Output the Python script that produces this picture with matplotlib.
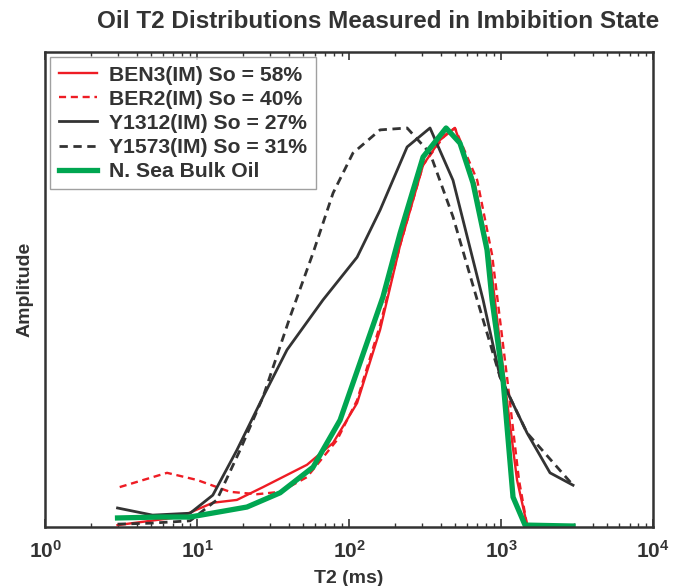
import numpy as np
import matplotlib
matplotlib.use('Agg')
import matplotlib.pyplot as plt
from matplotlib.ticker import LogLocator, NullFormatter

plt.rcParams['font.family'] = ['Liberation Sans', 'DejaVu Sans']

# T2 (ms) and amplitude (arbitrary units, axis runs 0..100)
ben3_t2 = [3, 7.7, 12.7, 18.3, 27.2, 52.9, 78.5, 113, 160, 217, 307, 398, 497, 675, 847, 1062, 1274, 1483, 2976]
ben3_amp = [0.4, 2.1, 5.1, 5.7, 8.4, 13.1, 17.7, 26.1, 41.5, 59.4, 76.2, 81.5, 84, 72, 56.2, 29.9, 9.9, 0.4, 0.2]

ber2_t2 = [3.1, 6.35, 10, 16.5, 24.8, 35.2, 52.9, 83.4, 113, 160, 217, 307, 427, 497, 697, 873, 1100, 1312, 1483, 2976]
ber2_amp = [8.4, 11.4, 9.9, 7.4, 6.9, 7.4, 10.5, 18.3, 26.7, 42.5, 59.4, 76.2, 82.5, 84, 73, 57.3, 31, 9.9, 0.4, 0.2]

y1312_t2 = [3, 5.1, 9.0, 12.7, 18.3, 27.2, 39.1, 67.4, 113, 160, 241, 341, 483, 762, 985, 1483, 2100, 2976]
y1312_amp = [4.0, 2.5, 2.9, 6.7, 16.2, 27.4, 37.3, 47.8, 56.8, 66.7, 80, 84, 73, 47.8, 31.6, 19.8, 11.4, 8.8]

y1573_t2 = [3, 4.9, 9.0, 13.5, 19.2, 27.2, 40.9, 58, 78.5, 106, 160, 241, 341, 483, 697, 985, 1483, 2976]
y1573_amp = [0.6, 0.8, 1.3, 5.7, 16.2, 27.4, 44.2, 57.7, 70.3, 78.7, 83.6, 84, 78.7, 65.3, 47.8, 31.6, 19.8, 8.8]

bulk_t2 = [3, 5.7, 9.0, 21.3, 35.2, 58, 87.3, 167, 217, 307, 435, 537, 654, 809, 873, 1031, 1199, 1438, 2976]
bulk_amp = [1.9, 2.1, 2.1, 4.2, 7.2, 12.6, 22.5, 48.4, 61.9, 77.9, 84, 80.8, 72.4, 58.3, 47.8, 30.9, 6.3, 0.4, 0.2]

red = '#ee1c24'
dark = '#333333'
green = '#00a651'

fig = plt.figure(figsize=(6.78, 5.86), dpi=100)
ax = fig.add_axes([0.0664, 0.1007, 0.8968, 0.8106])

ax.plot(ben3_t2, ben3_amp, color=red, lw=1.7, label='BEN3(IM) So = 58%')
ax.plot(ber2_t2, ber2_amp, color=red, lw=1.7, ls=(0, (3, 2)), label='BER2(IM) So = 40%')
ax.plot(y1312_t2, y1312_amp, color=dark, lw=2.0, label='Y1312(IM) So = 27%')
ax.plot(y1573_t2, y1573_amp, color=dark, lw=2.0, ls=(0, (3, 2)), label='Y1573(IM) So = 31%')
ax.plot(bulk_t2, bulk_amp, color=green, lw=3.8, label='N. Sea Bulk Oil')

ax.set_xscale('log')
ax.set_xlim(1, 1e4)
ax.set_ylim(0, 100)
ax.set_yticks([])

ax.xaxis.set_major_locator(LogLocator(base=10, numticks=10))
ax.xaxis.set_minor_locator(LogLocator(base=10, subs=np.arange(2, 10), numticks=10))
ax.xaxis.set_minor_formatter(NullFormatter())
ax.tick_params(axis='x', which='major', direction='in', top=True, length=6, width=1.2,
               color=dark, labelsize=15, labelcolor=dark, pad=9)
ax.tick_params(axis='x', which='minor', direction='in', top=True, length=3, width=1.0, color=dark)
for lab in ax.get_xticklabels():
    lab.set_fontweight('bold')

for s in ax.spines.values():
    s.set_color(dark)
    s.set_linewidth(1.8)

ax.set_xlabel('T2 (ms)', fontsize=14, fontweight='bold', color=dark, labelpad=6)
ax.set_ylabel('Amplitude', fontsize=14, fontweight='bold', color=dark, labelpad=8)
fig.text(0.557, 0.963, 'Oil T2 Distributions Measured in Imbibition State',
         fontsize=17.5, fontweight='bold', color=dark, ha='center', va='center')

leg = ax.legend(loc='upper left', frameon=True, fancybox=False,
                edgecolor='#888888', handlelength=1.8, handletextpad=0.6,
                borderpad=0.4, labelspacing=0.24, borderaxespad=0.25,
                prop={'weight': 'bold', 'size': 15.2})
leg.get_frame().set_linewidth(1.0)
for t in leg.get_texts():
    t.set_color(dark)

fig.savefig('out.png', dpi=100)
